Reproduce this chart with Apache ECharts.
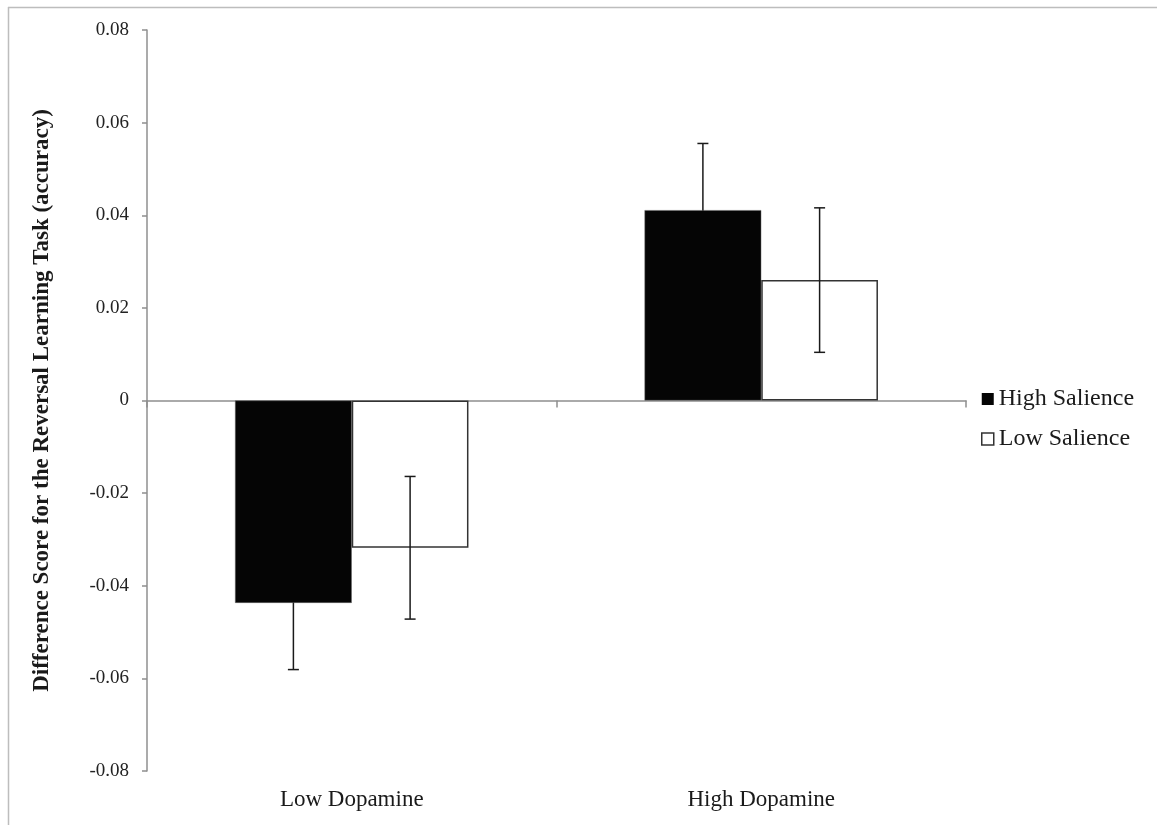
<!DOCTYPE html>
<html>
<head>
<meta charset="utf-8">
<script src="https://cdn.jsdelivr.net/npm/echarts@6/dist/echarts.min.js"></script>
<style>html,body{margin:0;padding:0;background:#fff;}#c{width:1157px;height:825px;}</style>
</head>
<body>
<div id="c"></div>
<script>
var categories = ['Low Dopamine', 'High Dopamine'];
var seriesNames = ['High Salience', 'Low Salience'];
var highSalience = [-0.0437, 0.0411];
var lowSalience = [-0.0318, 0.0260];
var highSalienceErr = [0.0144, 0.0144];
var lowSalienceErr = [0.0154, 0.0156];

var FONT = '"Liberation Serif", "Times New Roman", serif';
var BAR_FRAC = 0.285;

function errSeries(vals, errs, side, z) {
  var data = vals.map(function (v, i) { return [i, v, errs[i]]; });
  return {
    type: 'custom',
    xAxisIndex: 0,
    silent: true,
    z: z,
    data: data,
    renderItem: function (params, api) {
      var i = api.value(0), v = api.value(1), e = api.value(2);
      var band = api.size([1, 0])[0];
      var off = side * band * BAR_FRAC / 2;
      var top = api.coord([i, v + e]);
      var bot = api.coord([i, v - e]);
      var x = top[0] + off;
      var w = 5.5;
      var st = { stroke: '#1a1a1a', lineWidth: 1.5 };
      return {
        type: 'group',
        children: [
          { type: 'line', shape: { x1: x, y1: top[1], x2: x, y2: bot[1] }, style: st },
          { type: 'line', shape: { x1: x - w, y1: top[1], x2: x + w, y2: top[1] }, style: st },
          { type: 'line', shape: { x1: x - w, y1: bot[1], x2: x + w, y2: bot[1] }, style: st }
        ]
      };
    }
  };
}

var chart = echarts.init(document.getElementById('c'));
chart.setOption({
  animation: false,
  backgroundColor: '#ffffff',
  grid: { left: 147, right: 191, top: 30, bottom: 54 },
  legend: {
    orient: 'vertical',
    left: 981,
    top: 387,
    padding: 0,
    itemWidth: 12,
    itemHeight: 12,
    itemGap: 16,
    icon: 'rect',
    textStyle: { fontFamily: FONT, fontSize: 24, color: '#1a1a1a', lineHeight: 24 },
    data: [
      { name: seriesNames[0], itemStyle: { color: '#050505', borderColor: '#050505', borderWidth: 0 } },
      { name: seriesNames[1], itemStyle: { color: '#ffffff', borderColor: '#333333', borderWidth: 1.5 } }
    ]
  },
  xAxis: [
    {
      type: 'category',
      data: categories,
      axisLine: { onZero: true, lineStyle: { color: '#8f8f8f', width: 1.5 } },
      axisTick: { show: true, length: 7, lineStyle: { color: '#8f8f8f', width: 1.5 } },
      axisLabel: { show: false },
      splitLine: { show: false }
    },
    {
      type: 'category',
      data: categories,
      position: 'bottom',
      axisLine: { show: false, onZero: false },
      axisTick: { show: false },
      axisLabel: { show: true, margin: 17, fontFamily: FONT, fontSize: 23, color: '#1a1a1a' },
      splitLine: { show: false }
    }
  ],
  yAxis: {
    type: 'value',
    min: -0.08,
    max: 0.08,
    interval: 0.02,
    name: 'Difference Score for the Reversal Learning Task (accuracy)',
    nameLocation: 'middle',
    nameRotate: 90,
    nameGap: 93,
    nameTextStyle: { fontFamily: FONT, fontSize: 23, fontWeight: 'bold', color: '#1a1a1a' },
    axisLine: { show: true, lineStyle: { color: '#8f8f8f', width: 1.5 } },
    axisTick: { show: true, length: 5, lineStyle: { color: '#8f8f8f', width: 1.5 } },
    splitLine: { show: false },
    axisLabel: {
      margin: 18,
      fontFamily: FONT,
      fontSize: 19,
      color: '#222222',
      formatter: function (v) {
        var r = Math.round(v * 100) / 100;
        if (Math.abs(r) < 1e-9) return '0';
        return r.toFixed(2);
      }
    }
  },
  series: [
    {
      name: seriesNames[0],
      type: 'bar',
      xAxisIndex: 0,
      z: 3,
      barWidth: (BAR_FRAC * 100) + '%',
      barGap: '0%',
      data: highSalience,
      itemStyle: { color: '#050505', borderColor: '#666666', borderWidth: 0.5 }
    },
    {
      name: seriesNames[1],
      type: 'bar',
      xAxisIndex: 0,
      z: 3,
      barWidth: (BAR_FRAC * 100) + '%',
      barGap: '0%',
      data: lowSalience,
      itemStyle: { color: '#ffffff', borderColor: '#333333', borderWidth: 1.5 }
    },
    errSeries(highSalience, highSalienceErr, -1, 1),
    errSeries(lowSalience, lowSalienceErr, 1, 10)
  ],
  graphic: [
    { type: 'line', silent: true, shape: { x1: 8.5, y1: 7, x2: 8.5, y2: 825 }, style: { stroke: '#bdbdbd', lineWidth: 1.5 } },
    { type: 'line', silent: true, shape: { x1: 8, y1: 7.5, x2: 1157, y2: 7.5 }, style: { stroke: '#bdbdbd', lineWidth: 1.5 } }
  ]
});
</script>
</body>
</html>
